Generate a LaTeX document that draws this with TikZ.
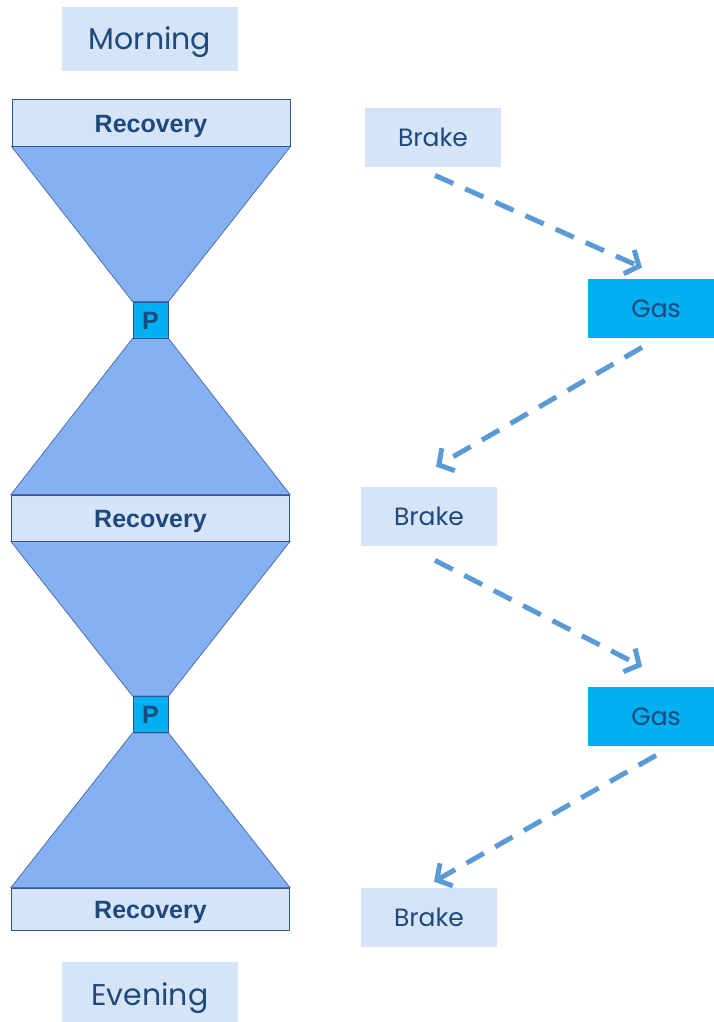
\documentclass[tikz,border=0pt]{standalone}
\usepackage{fontspec}
\setmainfont{Poppins}
\setsansfont{Liberation Sans}
\usetikzlibrary{arrows.meta,positioning,backgrounds}
\definecolor{boxpale}{RGB}{213,228,246}
\definecolor{funnelblue}{RGB}{133,177,243}
\definecolor{edgeblue}{RGB}{47,85,151}
\definecolor{gascyan}{RGB}{0,176,240}
\definecolor{textnavy}{RGB}{31,73,125}
\definecolor{arrowblue}{RGB}{91,155,213}
\tikzset{every picture/.style={line width=0.75pt}}

\begin{document}
\begin{tikzpicture}[x=1pt,y=-1pt,
    timebox/.style={fill=boxpale, text=textnavy, inner sep=0pt, minimum width=176pt,
        text height=21pt, text depth=0pt, font=\fontsize{30}{36}\selectfont},
    pedal/.style={fill=boxpale, text=textnavy, inner sep=0pt, minimum width=136pt,
        minimum height=59pt, text height=17.5pt, text depth=0pt, font=\fontsize{25}{30}\selectfont},
    gasbox/.style={pedal, fill=gascyan},
    recbox/.style={fill=boxpale, draw=edgeblue, line width=1pt, text=textnavy, inner sep=0pt,
        minimum width=278pt, text height=18pt, text depth=0pt,
        font=\sffamily\bfseries\fontsize{25}{30}\selectfont},
    pbox/.style={fill=gascyan, draw=edgeblue, line width=1pt, text=textnavy, inner sep=0pt,
        minimum width=35pt, minimum height=36pt, text height=18pt, text depth=0pt,
        font=\sffamily\bfseries\fontsize{25}{30}\selectfont},
    funnel/.style={fill=funnelblue, draw=edgeblue!85, line width=0.8pt},
    flow/.style={draw=arrowblue, line width=5pt, dash pattern=on 20pt off 13pt,
        -{Straight Barb[length=11pt,width=26pt]}}]
    \useasboundingbox (0,0) rectangle (714,1022);

    % Tageszeiten
    \node[timebox, minimum height=64pt] (morning) at (150,39.5) {Morning};
    \node[timebox, minimum height=66pt] (evening) at (150,995) {Evening};

    % Erholungsphasen und Pausen
    \node[recbox, minimum height=46pt] (rec1) at (151,123) {Recovery};
    \node[pbox] (p1) at (150.5,320) {P};
    \node[recbox, minimum height=46pt] (rec2) at (150.5,518) {Recovery};
    \node[pbox] (p2) at (150.5,714.5) {P};
    \node[recbox, minimum height=42pt] (rec3) at (150.5,909) {Recovery};

    % Trichter
    \begin{scope}[on background layer]
        \draw[funnel] (rec1.south west) -- (rec1.south east) -- (p1.north east) -- (p1.north west) -- cycle;
        \draw[funnel] (p1.south west) -- (p1.south east) -- (rec2.north east) -- (rec2.north west) -- cycle;
        \draw[funnel] (rec2.south west) -- (rec2.south east) -- (p2.north east) -- (p2.north west) -- cycle;
        \draw[funnel] (p2.south west) -- (p2.south east) -- (rec3.north east) -- (rec3.north west) -- cycle;
    \end{scope}

    % Bremse und Gas
    \node[pedal] (brake1) at (433,137.5) {Brake};
    \node[gasbox] (gas1) at (656,308.5) {Gas};
    \node[pedal] (brake2) at (429,516.5) {Brake};
    \node[gasbox] (gas2) at (656,716.5) {Gas};
    \node[pedal] (brake3) at (429,917.5) {Brake};

    % Wechsel
    \draw[flow] ([xshift=2pt,yshift=-8pt]brake1.south) -- ([xshift=-14pt,yshift=11pt]gas1.north);
    \draw[flow] ([xshift=-14pt,yshift=-9pt]gas1.south) -- ([xshift=7pt,yshift=20pt]brake2.north);
    \draw[flow] ([xshift=6pt,yshift=-14pt]brake2.south) -- ([xshift=-14pt,yshift=20pt]gas2.north);
    \draw[flow] ([xshift=0pt,yshift=-9pt]gas2.south) -- ([xshift=5pt,yshift=6pt]brake3.north);
\end{tikzpicture}
\end{document}
